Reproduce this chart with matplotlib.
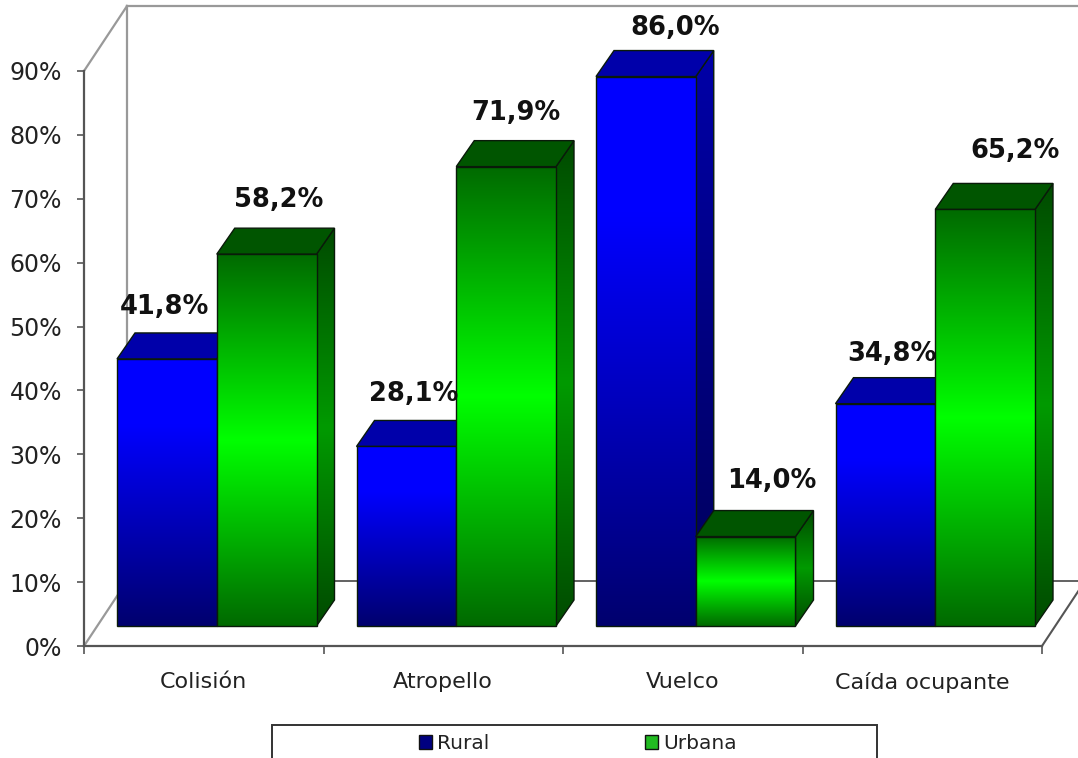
import numpy as np
import matplotlib
matplotlib.use("Agg")
import matplotlib.pyplot as plt
from matplotlib.colors import LinearSegmentedColormap
from matplotlib.patches import Polygon, Rectangle, Patch

# -------------------------
# 1. Data
# -------------------------
categories = ["Colisión", "Atropello", "Vuelco", "Caída ocupante"]
rural = [41.8, 28.1, 86.0, 34.8]
urbana = [58.2, 71.9, 14.0, 65.2]
y_ticks = [0, 10, 20, 30, 40, 50, 60, 70, 80, 90]

# label offsets from the bar's top centre, pixels
rural_label_dx = [-2, 7, 29, 7]
rural_label_dy = [52, 52, 49, 50]
urbana_label_dx = [12, 10, 26, 30]
urbana_label_dy = [54, 54, 56, 58]

# -------------------------
# 2. Figure and axes
# -------------------------
W, H = 1078, 758
fig = plt.figure(figsize=(W / 100, H / 100), dpi=100, facecolor="white")
left, right, bottom, top = 84, 1042, 646, 71
ax = fig.add_axes([left / W, 1 - bottom / H, (right - left) / W, (bottom - top) / H])
ax.set_xlim(0, 4)
ax.set_ylim(0, 90)
ax.patch.set_visible(False)

px_x = 4 / (right - left)
px_y = 90 / (bottom - top)

AXIS_COLOR = "#555555"
WALL_COLOR = "#999999"

# -------------------------
# 3. Back wall and floor
# -------------------------
wall_dx, wall_dy = 43 * px_x, 65 * px_y
wall = dict(color=WALL_COLOR, lw=1.6, clip_on=False, zorder=1)
ax.plot([0, wall_dx], [90, 90 + wall_dy], **wall)
ax.plot([wall_dx, wall_dx], [wall_dy, 90 + wall_dy], **wall)
ax.plot([wall_dx, 4 + wall_dx], [90 + wall_dy, 90 + wall_dy], **wall)
ax.plot([0, wall_dx], [0, wall_dy], **wall)
ax.plot([wall_dx, 4 + wall_dx], [wall_dy, wall_dy], color=AXIS_COLOR, lw=1.3, clip_on=False, zorder=1)
ax.plot([4, 4 + wall_dx], [0, wall_dy], color=AXIS_COLOR, lw=1.5, clip_on=False, zorder=1)

# -------------------------
# 4. Bars
# -------------------------
blue_front = LinearSegmentedColormap.from_list("bf", [(0, "#00006e"), (0.75, "#0000ff"), (1, "#0000ff")])
blue_side = LinearSegmentedColormap.from_list("bs", [(0, "#000058"), (1, "#0000a8")])
green_front = LinearSegmentedColormap.from_list(
    "gf", [(0, "#006a00"), (0.5, "#00ff00"), (1, "#006a00")])
green_side = LinearSegmentedColormap.from_list(
    "gs", [(0, "#004a00"), (0.5, "#009a00"), (1, "#004a00")])

base_dx, base_dy = 13 * px_x, 20 * px_y
depth_dx, depth_dy = 18 * px_x, 26 * px_y
gap = 20 * px_x
bar_w = (1 - 2 * gap) / 2
EDGE = "#0a1a0a"

z = 3.0


def next_z():
    # each face goes on top of the one drawn before it
    global z
    z += 0.01
    return z


def gradient_face(pts, cmap):
    xs = [p[0] for p in pts]
    ys = [p[1] for p in pts]
    ramp = np.linspace(1, 0, 256).reshape(-1, 1)
    im = ax.imshow(ramp, cmap=cmap, vmin=0, vmax=1, aspect="auto", zorder=next_z(),
                   extent=[min(xs), max(xs), min(ys), max(ys)])
    poly = Polygon(pts, closed=True, facecolor="none", edgecolor=EDGE, lw=1.0,
                   clip_on=False, zorder=next_z())
    ax.add_patch(poly)
    im.set_clip_path(poly)
    im.set_clip_box(fig.bbox)


def draw_bar(x0, value, front, side, top_color):
    x1 = x0 + bar_w
    y0 = base_dy
    y1 = base_dy + value
    gradient_face([(x1, y0), (x1 + depth_dx, y0 + depth_dy),
                   (x1 + depth_dx, y1 + depth_dy), (x1, y1)], side)
    ax.add_patch(Polygon([(x0, y1), (x0 + depth_dx, y1 + depth_dy),
                          (x1 + depth_dx, y1 + depth_dy), (x1, y1)], closed=True,
                         facecolor=top_color, edgecolor=EDGE, lw=1.0, clip_on=False, zorder=next_z()))
    gradient_face([(x0, y0), (x1, y0), (x1, y1), (x0, y1)], front)


for i in range(len(categories)):
    x_r = i + base_dx + gap
    x_u = x_r + bar_w
    draw_bar(x_r, rural[i], blue_front, blue_side, "#0000aa")
    draw_bar(x_u, urbana[i], green_front, green_side, "#005500")

ax.set_xlim(0, 4)
ax.set_ylim(0, 90)

# value labels
for i in range(len(categories)):
    x_r = i + base_dx + gap
    x_u = x_r + bar_w
    ax.text(x_r + bar_w / 2 + rural_label_dx[i] * px_x, base_dy + rural[i] + rural_label_dy[i] * px_y,
            f"{rural[i]:.1f}%".replace(".", ","), ha="center", va="center",
            fontsize=18.5, fontweight="bold", color="#111111", zorder=5, clip_on=False)
    ax.text(x_u + bar_w / 2 + urbana_label_dx[i] * px_x, base_dy + urbana[i] + urbana_label_dy[i] * px_y,
            f"{urbana[i]:.1f}%".replace(".", ","), ha="center", va="center",
            fontsize=18.5, fontweight="bold", color="#111111", zorder=5, clip_on=False)

# -------------------------
# 5. Axes, ticks and legend
# -------------------------
for name in ["top", "right"]:
    ax.spines[name].set_visible(False)
for name in ["left", "bottom"]:
    ax.spines[name].set_color(AXIS_COLOR)
    ax.spines[name].set_linewidth(1.6)

ax.set_yticks(y_ticks)
ax.set_yticklabels([f"{v}%" for v in y_ticks])
ax.tick_params(axis="y", length=5, width=1.2, color=AXIS_COLOR, labelsize=17, labelcolor="#222222", pad=11)
ax.set_xticks(range(5))
ax.set_xticklabels([])
ax.tick_params(axis="x", length=6, width=1.2, color=AXIS_COLOR)
ax.set_xticks([i + 0.5 for i in range(4)], minor=True)
ax.set_xticklabels(categories, minor=True)
ax.tick_params(axis="x", which="minor", length=0, labelsize=16, labelcolor="#222222", pad=19)

fig.add_artist(Rectangle((272 / W, -0.02), 605 / W, 0.02 + (758 - 725) / H, transform=fig.transFigure,
                         facecolor="white", edgecolor="#333333", lw=1.4))
handles = [Patch(facecolor="#000080", edgecolor="#111111", label="Rural"),
           Patch(facecolor="#22bb22", edgecolor="#111111", label="Urbana")]
leg = fig.legend(handles=handles, ncol=2, loc="center", bbox_to_anchor=(578 / W, 1 - 743.5 / H),
                 frameon=False, fontsize=14.5, handlelength=0.65, handleheight=0.65,
                 handletextpad=0.25, columnspacing=7.75, labelcolor="#222222")

fig.savefig("out.png", dpi=100)
